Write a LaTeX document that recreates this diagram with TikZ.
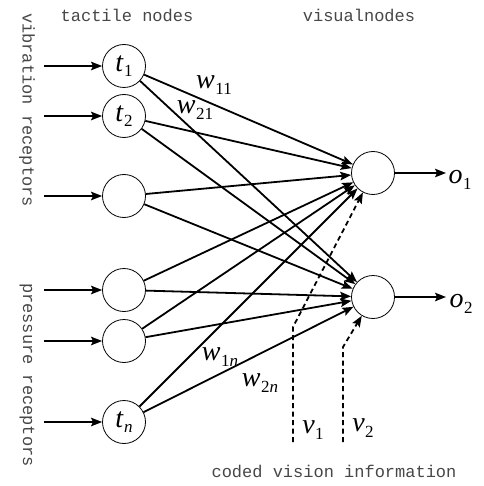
\documentclass[tikz,border=0pt]{standalone}
\usepackage{fontspec}
\setmainfont{Liberation Serif}
\newfontfamily\capfont{Liberation Mono}
\usetikzlibrary{arrows.meta}
% italic symbol with an upright or italic subscript
\newcommand\sym[2]{\textit{#1}\kern0.5pt\raisebox{-0.2em}{\fontsize{17}{17}\selectfont #2}}
\begin{document}
\begin{tikzpicture}[x=1pt,y=-1pt,
  unit/.style={circle,draw,line width=0.8pt,minimum size=43pt,inner sep=0pt,
               font=\fontsize{28}{28}\selectfont},
  link/.style={line width=1.8pt,-{Stealth[length=11pt,width=8.5pt,inset=2pt]}},
  cue/.style={link,dash pattern=on 5pt off 3.5pt},
  caption/.style={font=\capfont\fontsize{17}{17}\selectfont,text=black!72,inner sep=0pt},
  lab/.style={font=\fontsize{28}{28}\selectfont,inner sep=0pt}]
\useasboundingbox (0,0) rectangle (483,486);

% captions
\node[caption] (ctac) at (127,15) {tactile nodes};
\node[caption] (cvis) at (359,15) {visualnodes};
\node[caption] (ccod) at (334,471) {coded vision information};
\node[caption,rotate=-90] (cvib) at (27,110) {vibration receptors};
\node[caption,rotate=-90] (cpre) at (27,375) {pressure receptors};

% tactile layer
\node[unit] (t1) at (124,66)  {\sym{t}{1}};
\node[unit] (t2) at (124,116) {\sym{t}{2}};
\node[unit] (t3) at (124,196) {};
\node[unit] (t4) at (124,290) {};
\node[unit] (t5) at (124,341) {};
\node[unit] (tn) at (124,422) {\sym{t}{\textit{n}}};

% visual layer
\node[unit] (o1) at (373,173) {};
\node[unit] (o2) at (373,297) {};

% receptor inputs
\foreach \n/\y in {t1/66,t2/116,t3/196,t4/290,t5/341,tn/422}{
  \coordinate (in-\n) at (44,\y);
  \draw[link] (in-\n) -- (\n);
}

% weighted connections
\foreach \s in {t1,t2,t3,t4,t5,tn}
  \foreach \d in {o1,o2}
    \draw[link] (\s) -- (\d);

% outputs
\coordinate (e1) at (446,173);
\coordinate (e2) at (446,297);
\draw[link] (o1) -- (e1);
\draw[link] (o2) -- (e2);
\node[lab] (lo1) at (460,180) {\sym{o}{1}};
\node[lab] (lo2) at (461,304) {\sym{o}{2}};

% vision inputs
\coordinate (v1s) at (293,442);
\coordinate (v1k) at (293,327);
\coordinate (v2s) at (343,442);
\coordinate (v2k) at (343,347);
\draw[cue] (v1s) -- (v1k) -- (o1);
\draw[cue] (v2s) -- (v2k) -- (o2);
\node[lab] (lv1) at (313,430) {\sym{v}{1}};
\node[lab] (lv2) at (363,428) {\sym{v}{2}};

% weight labels
\node[lab] (w11) at (214,85)  {\sym{w}{11}};
\node[lab] (w21) at (195,110) {\sym{w}{21}};
\node[lab] (w1n) at (220,357) {\sym{w}{1\textit{n}}};
\node[lab] (w2n) at (260,383) {\sym{w}{2\textit{n}}};
\end{tikzpicture}
\end{document}
